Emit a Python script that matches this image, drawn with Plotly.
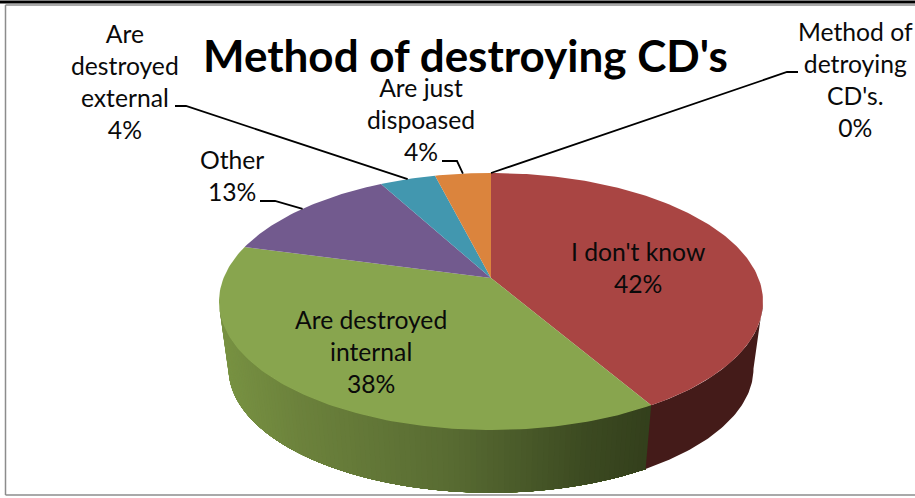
import math
import plotly.graph_objects as go

categories = ["I don't know", "Are destroyed<br>internal", "Other", "Are<br>destroyed<br>external",
              "Are just<br>dispoased", "Method of<br>detroying<br>CD's."]
values = [42, 38, 13, 4, 4, 0]
top_colors = ["#A94543", "#88A54E", "#725A8E", "#4297AF", "#DB843D", "#5B8BC6"]
title_text = "Method of destroying CD's"

# label centre position in paper pixels (x, y of block centre)
label_pos = [(638, 267), (371, 351), (232, 175), (125, 81), (421, 119), (855, 79)]
# leader elbow points, None if the label sits on its slice
leader_start = [None, None, (260, 201), (175, 106), (442, 161), (798, 72)]
leader_elbow = [None, None, (275, 201), (186, 106), (457, 161), (787, 72)]

W, H = 915, 498
CX, APEX_Y = 491, 278
A, B, PERSP = 267.4, 124.2, 0.1829
DEPTH_SCALE, BOTTOM_Y = 0.965, 346
TOTAL = sum(values)


def rim(theta, scale=1.0, y0=APEX_Y):
    x, y = math.sin(theta), math.cos(theta)
    w = 1 + PERSP * y
    return CX + scale * A * x / w, y0 - scale * B * y / w


def arc(t0, t1, n, scale=1.0, y0=APEX_Y):
    pts = [rim(t0 + (t1 - t0) * i / max(n, 1), scale, y0) for i in range(n + 1)]
    return pts


def lerp_color(stops, x):
    if x <= stops[0][0]:
        return stops[0][1]
    for (x0, c0), (x1, c1) in zip(stops, stops[1:]):
        if x <= x1:
            f = (x - x0) / (x1 - x0)
            return tuple(c0[i] + (c1[i] - c0[i]) * f for i in range(3))
    return stops[-1][1]


green_stops = [(229, (120, 146, 66)), (300, (108, 130, 60)), (450, (88, 107, 50)),
               (580, (60, 74, 33)), (650, (50, 62, 27))]
red_side = (68, 27, 25)

angles = []
cum = 0
for v in values:
    t0 = cum / TOTAL * 2 * math.pi
    cum += v
    angles.append((t0, cum / TOTAL * 2 * math.pi))

fig = go.Figure()


def poly(pts, color):
    fig.add_trace(go.Scatter(x=[p[0] for p in pts] + [pts[0][0]], y=[p[1] for p in pts] + [pts[0][1]],
                             mode="lines", fill="toself", fillcolor=color,
                             line=dict(color=color, width=0), hoverinfo="skip", showlegend=False))


# the wall's visible span runs between the rim's widest points
widest = math.acos(-PERSP)
wall_right, wall_left = widest, 2 * math.pi - widest

# each green strip covers the whole remaining wall, so no seam can open between neighbours
t0, t1 = wall_left, angles[1][0]
n = int(abs(t1 - t0) / math.radians(1)) + 1
for i in range(n):
    a0 = t0 + (t1 - t0) * i / n
    p = arc(a0, t1, 40) + arc(t1, a0, 40, DEPTH_SCALE, BOTTOM_Y)
    c = lerp_color(green_stops, rim(a0, DEPTH_SCALE, BOTTOM_Y)[0])
    poly(p, "rgb(%d,%d,%d)" % tuple(round(k) for k in c))
poly(arc(wall_right, angles[0][1], 60) + arc(angles[0][1], wall_right, 60, DEPTH_SCALE, BOTTOM_Y),
     "rgb(%d,%d,%d)" % red_side)

# top faces
for (t0, t1), col, v in zip(angles, top_colors, values):
    if v == 0:
        continue
    n = max(int((t1 - t0) / math.radians(1)), 2)
    poly([(CX, APEX_Y)] + arc(t0, t1, n), col)

shapes = [
    dict(type="line", xref="paper", yref="paper", x0=0, x1=1, y0=1 - 2 / H, y1=1 - 2 / H,
         line=dict(color="#000000", width=3)),
    dict(type="line", xref="paper", yref="paper", x0=5.5 / W, x1=1, y0=1 - 5 / H, y1=1 - 5 / H,
         line=dict(color="#8C8C8C", width=1.5)),
    dict(type="line", xref="paper", yref="paper", x0=5.5 / W, x1=5.5 / W, y0=1 - 495 / H, y1=1 - 5 / H,
         line=dict(color="#8C8C8C", width=1.5)),
    dict(type="line", xref="paper", yref="paper", x0=5.5 / W, x1=1, y0=1 - 495 / H, y1=1 - 495 / H,
         line=dict(color="#8C8C8C", width=1.5)),
]

annotations = []
for cat, v, pos, ls, le, (t0, t1) in zip(categories, values, label_pos, leader_start, leader_elbow, angles):
    annotations.append(dict(x=pos[0], y=pos[1], xref="x", yref="y", showarrow=False,
                            text="%s<br>%d%%" % (cat, v), align="center", xanchor="center", yanchor="middle",
                            font=dict(family="Lato", size=24.7, color="#0A0A0A")))
    if ls:
        end = rim((t0 + t1) / 2)
        shapes.append(dict(type="path", xref="x", yref="y",
                           path="M %g %g L %g %g L %g %g" % (ls[0], ls[1], le[0], le[1], end[0], end[1]),
                           line=dict(color="#000000", width=1.8)))

annotations.append(dict(x=465, y=55, xref="x", yref="y", showarrow=False, text="<b>%s</b>" % title_text,
                        xanchor="center", yanchor="middle",
                        font=dict(family="Lato", size=44, color="#000000")))

fig.update_layout(
    width=W, height=H, margin=dict(l=0, r=0, t=0, b=0), autosize=False,
    paper_bgcolor="#FFFFFF", plot_bgcolor="#FFFFFF", showlegend=False,
    xaxis=dict(range=[0, W], visible=False, fixedrange=True),
    yaxis=dict(range=[H, 0], visible=False, fixedrange=True),
    shapes=shapes, annotations=annotations,
)
fig.write_html("out.html", config=dict(displayModeBar=False),
               post_script="document.body.style.margin='0';document.documentElement.style.overflow='hidden';")
